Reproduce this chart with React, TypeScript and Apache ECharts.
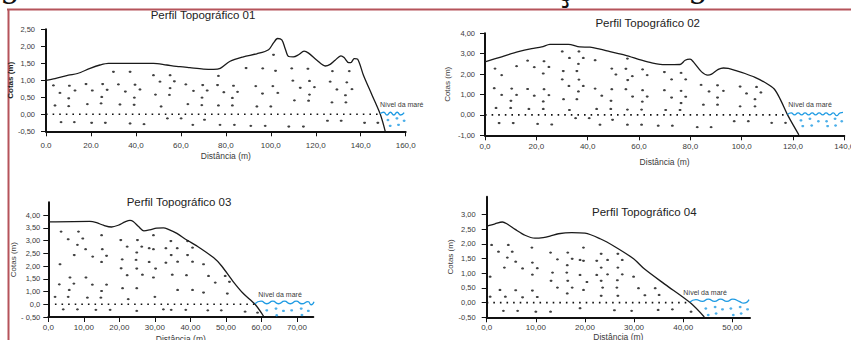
import React, { useEffect, useRef } from "react";
import * as echarts from "echarts";

// ---------- Perfil 01 ----------
const profile1: [number, number][] = [
  [0, 1.0], [4, 1.05], [10, 1.15], [14, 1.2], [19.6, 1.35], [24, 1.45], [27.7, 1.5], [47.8, 1.5],
  [53.7, 1.45], [59.6, 1.4], [64, 1.37], [70, 1.33], [74.5, 1.32], [77.5, 1.35], [81.9, 1.56],
  [87.8, 1.69], [93.8, 1.78], [99, 1.9], [101.2, 2.1], [103, 2.23], [104.9, 2.19], [106.4, 1.93],
  [107.9, 1.7], [110, 1.69], [112.3, 1.75], [114.8, 1.86], [116.8, 1.8], [120.5, 1.59], [124.2, 1.42],
  [126.4, 1.47], [128.6, 1.59], [131.2, 1.72], [132.6, 1.67], [134.6, 1.52], [135.6, 1.52],
  [137.1, 1.64], [138.6, 1.62], [141.2, 1.15], [145, 0.57], [148.7, 0], [150.9, -0.5],
];
const dots1: [number, number][] = [
  [30.0, 1.25], [37.4, 1.25], [47.8, 1.15], [55.2, 1.15], [76.7, 1.13], [89.0, 1.36], [96.4, 1.35],
  [102.1, 1.28], [109.3, 1.35], [116.5, 1.34], [127.4, 1.27], [134.9, 1.27], [101.2, 1.75],
  [3.3, 0.85], [10.4, 0.84], [17.8, 0.89], [25.2, 0.89], [32.2, 0.88], [39.6, 0.87], [50.7, 0.96],
  [57.1, 0.97], [62.2, 0.88], [69.7, 0.86], [76.3, 0.86], [83.4, 0.84], [93.3, 0.83], [100.9, 0.83],
  [109.8, 0.99], [117.2, 0.98], [126.4, 0.96], [133.8, 0.94],
  [6.2, 0.63], [12.9, 0.7], [20.6, 0.7], [27.2, 0.72], [35.3, 0.67], [41.8, 0.73], [55.2, 0.77],
  [65.6, 0.69], [71.7, 0.7], [79.1, 0.65], [85.2, 0.66], [96.3, 0.61], [103.1, 0.63], [113.1, 0.78],
  [119.4, 0.8], [129.4, 0.73], [136.1, 0.74],
  [10.1, 0.47], [24.8, 0.51], [39.3, 0.49], [48.7, 0.58], [54.9, 0.57], [69.4, 0.49], [82.9, 0.48],
  [117.2, 0.58], [133.2, 0.56],
  [4.0, 0.26], [10.1, 0.24], [18.4, 0.3], [24.5, 0.32], [32.9, 0.29], [39.2, 0.28], [51.2, 0.23],
  [63.1, 0.3], [69.3, 0.27], [76.7, 0.26], [82.9, 0.26], [93.8, 0.23], [100.0, 0.23], [110.5, 0.41],
  [116.8, 0.4], [127.2, 0.35], [133.4, 0.35],
  [6.7, -0.23], [12.6, -0.23], [20.3, -0.25], [26.4, -0.25], [37.4, -0.27], [43.6, -0.29],
  [54.0, -0.12], [60.1, -0.12], [65.3, -0.31], [70.5, -0.16], [77.4, -0.31], [83.8, -0.31],
  [91.1, -0.34], [97.5, -0.34], [108.0, -0.36], [114.5, -0.36], [125.2, -0.19], [131.3, -0.19],
  [141.7, -0.25], [147.6, -0.25],
];
const waterDots1: [number, number][] = [
  [152.1, -0.17], [156.1, -0.12], [159.3, -0.19], [153.1, -0.34], [156.8, -0.31],
];
const wave1: [number, number][] = [
  [148.7, 0.02], [150.2, 0.06], [151.7, -0.02], [153.2, 0.06], [154.7, -0.02], [156.2, 0.06],
  [157.7, -0.02], [159.3, 0.05],
];
const shore1 = 148.7;
const xTicks1 = [0, 20, 40, 60, 80, 100, 120, 140, 160];
const xLabels1 = ["0.0", "20.0", "40,0", "60,0", "80,0", "100,0", "120,0", "140,0", "160,0"];
const yTicks1 = [-0.5, 0, 0.5, 1, 1.5, 2, 2.5];
const yLabels1 = ["-0,50", "0,00", "0,50", "1,00", "1,50", "2,00", "2,50"];

// ---------- Perfil 02 ----------
const profile2: [number, number][] = [
  [0, 2.6], [6.5, 2.85], [13, 3.1], [18.2, 3.25], [22.1, 3.33], [25.3, 3.46], [32.5, 3.46],
  [37, 3.33], [40.9, 3.32], [44.8, 3.22], [48.7, 3.1], [54.5, 2.93], [61, 2.68], [65, 2.55],
  [70.1, 2.46], [76, 2.47], [78, 2.68], [79.9, 2.73], [81.2, 2.6], [84.4, 2.11], [86.8, 1.95],
  [88.3, 2.0], [90.9, 2.23], [92.9, 2.3], [94.8, 2.28], [98.1, 2.16], [101.3, 2.03], [105.2, 1.84],
  [109.1, 1.59], [112.7, 1.27], [115.3, 0.7], [117.9, 0], [122.3, -0.98],
];
const dots2: [number, number][] = [
  [3.9, 2.27], [6.5, 1.95], [12.3, 2.39], [16.6, 2.66], [19.2, 2.34], [23.0, 2.63], [24.9, 2.35],
  [22.7, 2.03], [30.1, 3.11], [36.6, 3.11], [32.9, 2.79], [38.3, 2.79], [42.9, 2.68], [36.4, 2.5],
  [30.5, 2.15], [35.8, 2.15], [30.1, 1.74], [36.6, 1.73], [32.7, 1.42], [38.3, 1.42], [36.4, 1.15],
  [42.9, 1.29], [49.4, 2.27], [51.0, 1.98], [54.9, 2.26], [55.5, 2.76], [57.4, 1.9], [55.6, 1.71],
  [61.4, 2.23], [63.2, 1.95], [69.9, 2.1], [76.4, 2.06], [72.7, 1.74], [78.2, 1.74],
  [3.6, 1.31], [6.5, 0.98], [10.1, 0.69], [10.4, 1.29], [12.3, 0.98], [16.6, 1.27], [19.2, 0.94],
  [23.0, 1.26], [22.7, 0.66], [24.9, 0.97], [30.6, 0.77], [35.8, 0.77], [45.5, 0.94], [49.4, 1.26],
  [49.1, 0.69], [54.9, 1.26], [57.5, 0.9], [61.4, 1.21], [61.3, 0.65], [63.2, 0.9], [69.9, 1.21],
  [72.7, 0.85], [76.4, 1.18], [76.4, 0.58], [78.2, 0.89], [84.2, 1.47], [87.3, 1.15], [90.6, 1.45],
  [90.6, 0.85], [92.9, 1.18], [99.4, 1.39], [101.9, 1.05], [105.8, 1.37], [105.2, 0.77], [107.5, 1.1],
  [85.1, 0.5], [90.6, 0.5], [99.4, 0.42], [105.2, 0.42],
  [4.3, 0.34], [10.0, 0.34], [17.1, 0.29], [22.7, 0.29], [32.9, 0.24], [43.5, 0.29], [49.0, 0.29],
  [55.5, 0.26], [61.0, 0.26], [70.4, 0.24], [76.0, 0.24],
  [5.5, -0.4], [11.0, -0.4], [20.5, -0.44], [26.0, -0.47], [35.3, -0.16], [40.6, -0.16],
  [44.8, -0.48], [49.7, -0.24], [55.5, -0.48], [61.0, -0.48], [67.5, -0.53], [73.0, -0.53],
  [82.7, -0.6], [88.1, -0.6], [97.1, -0.31], [102.6, -0.31], [111.7, -0.39], [117.1, -0.39],
];
const waterDots2: [number, number][] = [
  [123.1, -0.27], [126.6, -0.19], [129.9, -0.31], [133.1, -0.31], [136.4, -0.19], [139, -0.31],
  [123.8, -0.55], [127.3, -0.52], [133.5, -0.55], [136.6, -0.52],
];
const wave2: [number, number][] = [
  [117.9, 0.02], [119.3, 0.1], [120.6, 0.0], [122.0, 0.1], [123.4, 0.0], [124.7, 0.1], [126.1, 0.0],
  [127.5, 0.1], [128.8, 0.0], [130.2, 0.1], [131.6, 0.0], [132.9, 0.1], [134.3, 0.0], [135.7, 0.1],
  [137.0, -0.04], [138.4, 0.1], [139.5, 0.12],
];
const shore2 = 117.9;
const xTicks2 = [0, 20, 40, 60, 80, 100, 120, 140];
const xLabels2 = ["0,0", "20,0", "40,0", "60,0", "80,0", "100,0", "120,0", "140,0"];
const yTicks2 = [-1, 0, 1, 2, 3, 4];
const yLabels2 = ["-1,00", "0,00", "1,00", "2,00", "3,00", "4,00"];

// ---------- Perfil 03 ----------
const profile3: [number, number][] = [
  [0, 3.23], [11.7, 3.25], [13.6, 3.2], [15.5, 3.1], [17.8, 3.03], [19.7, 3.1], [21.6, 3.23],
  [23.0, 3.29], [23.9, 3.25], [25.4, 3.05], [26.9, 2.88], [28.6, 2.92], [30.5, 2.99], [32.4, 3.0],
  [33.8, 2.94], [36.2, 2.78], [39, 2.52], [41.8, 2.29], [46.5, 1.83], [48.8, 1.5], [52.1, 0.88],
  [54.9, 0.42], [58.2, 0], [60.6, -0.47],
];
const dots3: [number, number][] = [
  [3.6, 2.85], [8.5, 2.85], [5.6, 2.55], [9.7, 2.58], [8.2, 2.33], [10.5, 2.16], [7.3, 1.93],
  [12.5, 1.87], [15.0, 2.71], [15.2, 2.16], [16.4, 1.9], [15.0, 1.66], [3.3, 1.57], [20.4, 2.52],
  [22.2, 2.26], [25.1, 2.52], [26.3, 2.26], [24.9, 2.03], [28.4, 2.2], [29.6, 2.71], [29.6, 2.16],
  [33.1, 2.2], [34.5, 2.48], [36.3, 2.2], [39.2, 2.48], [40.6, 2.22], [20.8, 1.76], [24.7, 1.74],
  [28.4, 1.66], [33.1, 1.63], [34.6, 1.93], [36.4, 1.67], [39.2, 1.93], [40.6, 1.67], [43.7, 1.57],
  [20.5, 1.41], [24.9, 1.4], [22.2, 1.14], [26.5, 1.16], [30.2, 1.4], [34.9, 1.16], [29.6, 1.05],
  [38.9, 1.14], [45.1, 1.11], [49.8, 1.11], [47.0, 0.85], [51.0, 0.88], [6.1, 1.05], [10.6, 1.05],
  [3.1, 0.78], [7.2, 0.81], [12.4, 0.77], [16.4, 0.77], [5.9, 0.56], [15.0, 0.52], [20.9, 0.63],
  [24.9, 0.63], [36.4, 0.56], [40.6, 0.56], [43.7, 0.46], [50.4, 0.42], [1.9, 0.29], [5.6, 0.29],
  [11.0, 0.26], [14.8, 0.26], [22.5, 0.2], [30.0, 0.29],
  [4.2, -0.2], [8.2, -0.2], [13.4, -0.22], [17.4, -0.22], [24.9, -0.26], [32.4, -0.2], [34.6, -0.22],
  [38.7, -0.22], [44.9, -0.24], [48.7, -0.24], [55.4, -0.29], [58.9, -0.33],
];
const waterDots3: [number, number][] = [
  [61.5, -0.24], [64.1, -0.17], [66.2, -0.26], [68.5, -0.24], [71.2, -0.17], [73.2, -0.26],
  [64.3, -0.43], [71.4, -0.42],
];
const wave3: [number, number][] = [
  [58.2, 0.02], [59.9, 0.12], [61.5, 0.02], [63.2, 0.12], [64.8, 0.02], [66.5, 0.12], [68.1, 0.02],
  [69.8, 0.12], [71.4, 0.02], [73.1, 0.1], [74.0, -0.02], [74.8, 0.1],
];
const shore3 = 58.2;
const xTicks3 = [0, 10, 20, 30, 40, 50, 60, 70];
const xLabels3 = ["0,0", "10,00", "20,00", "30,00", "40,00", "50,00", "60,00", "70,00"];
const yTicks3 = [-0.5, 0, 0.5, 1, 1.5, 2, 2.5, 3, 3.5];
const yLabels3 = ["- 0,50", "0,0", "1,00", "1,50", "2,00", "2,50", "3,00", "3,50", "4,00"];

// ---------- Perfil 04 ----------
const profile4: [number, number][] = [
  [0, 2.6], [1.7, 2.68], [3.2, 2.74], [4.1, 2.68], [5.8, 2.49], [7.8, 2.29], [9.8, 2.19],
  [11.5, 2.21], [12.9, 2.26], [14.6, 2.34], [17.3, 2.38], [20.0, 2.36], [23.1, 2.17], [26.1, 1.9],
  [29.9, 1.49], [32.2, 1.13], [36.3, 0.62], [41.4, 0], [44.3, -0.49],
];
const dots4: [number, number][] = [
  [1.0, 1.96], [4.4, 1.96], [2.4, 1.73], [5.2, 1.73], [4.2, 1.53], [5.9, 1.39], [3.6, 1.19],
  [7.3, 1.16], [9.2, 1.87], [9.3, 1.36], [10.3, 1.17], [9.3, 0.95], [0.7, 0.88], [13.0, 1.7],
  [14.4, 1.47], [16.5, 1.7], [17.4, 1.49], [16.4, 1.27], [19.0, 1.45], [19.7, 1.87], [19.7, 1.42],
  [22.4, 1.42], [23.3, 1.66], [24.6, 1.45], [26.7, 1.66], [27.6, 1.45], [23.3, 1.19], [26.7, 1.19],
  [13.4, 1.02], [16.3, 1.02], [19.0, 0.94], [22.4, 0.94], [24.6, 0.96], [27.6, 0.96], [13.1, 0.74],
  [16.5, 0.74], [20.4, 0.7], [23.3, 0.74], [26.6, 0.76], [29.9, 0.88], [14.4, 0.51], [17.4, 0.51],
  [16.4, 0.31], [19.7, 0.43], [23.6, 0.51], [26.5, 0.51], [30.9, 0.49], [34.3, 0.49], [32.2, 0.25],
  [35.1, 0.26], [2.7, 0.43], [5.9, 0.42], [9.3, 0.41], [0.7, 0.2], [3.8, 0.2], [7.3, 0.18],
  [10.3, 0.19], [23.3, 0.23], [26.7, 0.23],
  [3.4, -0.28], [6.3, -0.28], [10.0, -0.31], [13.0, -0.31], [19.0, -0.19], [26.0, -0.26],
  [29.5, -0.28], [34.9, -0.25], [37.8, -0.23], [41.6, -0.31],
];
const waterDots4: [number, number][] = [
  [44.6, -0.2], [46.5, -0.15], [48.0, -0.23], [49.7, -0.2], [51.6, -0.15], [53.1, -0.23],
  [45.1, -0.42], [46.7, -0.37], [50.2, -0.42], [51.8, -0.37],
];
const wave4: [number, number][] = [
  [41.4, 0.02], [42.6, 0.1], [43.9, 0.04], [45.1, 0.12], [46.4, 0.04], [47.6, 0.12], [48.9, 0.04],
  [50.1, 0.12], [51.4, 0.04], [52.3, -0.02], [53.4, 0.1],
];
const shore4 = 41.4;
const xTicks4 = [0, 10, 20, 30, 40, 50];
const xLabels4 = ["0,0", "10,00", "20,00", "30,00", "40,00", "50,00"];
const yTicks4 = [-0.5, 0, 0.5, 1, 1.5, 2, 2.5, 3];
const yLabels4 = ["-0,50", "0,00", "0,50", "1,00", "1,50", "2,00", "2,50", "3,00"];

const titles = ["Perfil Topográfico 01", "Perfil Topográfico 02", "Perfil Topográfico 03", "Perfil Topográfico 04"];
const xName = "Distância (m)";
const yName = "Cotas (m)";
const tideLabel = "Nível da maré";

const FONT = "Liberation Sans, Arial, sans-serif";
const LABEL_COLOR = "#3a3a3a";
const BLUE = "#1f9be3";

function fmt(ticks: number[], labels: string[]) {
  return (v: number) => {
    const i = ticks.findIndex((t) => Math.abs(t - v) < 1e-6);
    return i >= 0 ? labels[i] : "";
  };
}

type PlotCfg = {
  grid: { left: number; top: number; width: number; height: number };
  xMin: number; xMax: number; yMin: number; yMax: number;
  xTicks: number[]; xLabels: string[]; yTicks: number[]; yLabels: string[];
  xLabelMargin: number; yLabelMargin: number; xNameGap: number; yNameGap: number;
  yNameBold: boolean;
  profile: [number, number][]; dots: [number, number][]; waterDots: [number, number][];
  wave: [number, number][]; shore: number;
};

const plots: PlotCfg[] = [
  {
    grid: { left: 46, top: 29.3, width: 359.7, height: 102 },
    xMin: 0, xMax: 160, yMin: -0.5, yMax: 2.5,
    xTicks: xTicks1, xLabels: xLabels1, yTicks: yTicks1, yLabels: yLabels1,
    xLabelMargin: 10, yLabelMargin: 11, xNameGap: 20, yNameGap: 27, yNameBold: true,
    profile: profile1, dots: dots1, waterDots: waterDots1, wave: wave1, shore: shore1,
  },
  {
    grid: { left: 485, top: 33.3, width: 359.3, height: 102 },
    xMin: 0, xMax: 140, yMin: -1, yMax: 4,
    xTicks: xTicks2, xLabels: xLabels2, yTicks: yTicks2, yLabels: yLabels2,
    xLabelMargin: 7, yLabelMargin: 10, xNameGap: 22, yNameGap: 34, yNameBold: false,
    profile: profile2, dots: dots2, waterDots: waterDots2, wave: wave2, shore: shore2,
  },
  {
    grid: { left: 48.3, top: 202.3, width: 265, height: 114.7 },
    xMin: 0, xMax: 74.6, yMin: -0.5, yMax: 4.0,
    xTicks: xTicks3, xLabels: xLabels3, yTicks: yTicks3, yLabels: yLabels3,
    xLabelMargin: 6, yLabelMargin: 8, xNameGap: 17, yNameGap: 26, yNameBold: false,
    profile: profile3, dots: dots3, waterDots: waterDots3, wave: wave3, shore: shore3,
  },
  {
    grid: { left: 486.7, top: 196.7, width: 263.3, height: 120.6 },
    xMin: 0, xMax: 53.6, yMin: -0.5, yMax: 3.6,
    xTicks: xTicks4, xLabels: xLabels4, yTicks: yTicks4, yLabels: yLabels4,
    xLabelMargin: 6, yLabelMargin: 11, xNameGap: 14, yNameGap: 26, yNameBold: false,
    profile: profile4, dots: dots4, waterDots: waterDots4, wave: wave4, shore: shore4,
  },
];

const titlePos: [number, number][] = [[203, 15], [647.7, 22.7], [179, 202.3], [644.3, 212.3]];
const tidePos: [number, number][] = [[401.7, 104], [810, 104.3], [280, 294], [705, 292.7]];

export default function App() {
  const ref = useRef<HTMLDivElement>(null);
  useEffect(() => {
    if (!ref.current) return;
    const chart = echarts.init(ref.current, undefined, { renderer: "svg" });

    const grids = plots.map((p) => ({ ...p.grid, containLabel: false, outerBoundsMode: "none" }));
    const xAxes = plots.map((p, i) => ({
      type: "value", gridIndex: i, min: p.xMin, max: p.xMax,
      name: xName, nameLocation: "middle", nameGap: p.xNameGap,
      nameTextStyle: { fontFamily: FONT, fontSize: 8.5, color: LABEL_COLOR },
      axisLine: { onZero: false, lineStyle: { color: "#111", width: 2 } },
      axisTick: { show: true, length: 5, customValues: p.xTicks, lineStyle: { color: "#111", width: 1 } },
      axisLabel: {
        customValues: p.xTicks, formatter: fmt(p.xTicks, p.xLabels), margin: p.xLabelMargin,
        fontFamily: FONT, fontSize: 8, color: LABEL_COLOR, showMinLabel: true, showMaxLabel: true,
      },
      splitLine: { show: false },
    }));
    const yAxes = plots.map((p, i) => ({
      type: "value", gridIndex: i, min: p.yMin, max: p.yMax,
      name: yName, nameLocation: "middle", nameGap: p.yNameGap, nameRotate: 90,
      nameTextStyle: {
        fontFamily: FONT, fontSize: 8, color: p.yNameBold ? "#222" : LABEL_COLOR,
        fontWeight: p.yNameBold ? "bold" : "normal",
      },
      axisLine: { onZero: false, lineStyle: { color: "#111", width: 2 } },
      axisTick: { show: true, length: 5, customValues: p.yTicks, lineStyle: { color: "#111", width: 1 } },
      axisLabel: {
        customValues: p.yTicks, formatter: fmt(p.yTicks, p.yLabels), margin: p.yLabelMargin,
        fontFamily: FONT, fontSize: 7.5, color: LABEL_COLOR, showMinLabel: true, showMaxLabel: true,
      },
      splitLine: { show: false },
    }));

    const series: any[] = [];
    plots.forEach((p, i) => {
      series.push({
        type: "line", xAxisIndex: i, yAxisIndex: i, data: [[0, 0], [p.shore, 0]],
        symbol: "none", silent: true,
        lineStyle: { color: "#111", width: 1.6, type: [1.6, 5] },
      });
      series.push({
        type: "scatter", xAxisIndex: i, yAxisIndex: i, data: p.dots,
        symbol: "circle", symbolSize: [3, 2.2], itemStyle: { color: "#111" }, silent: true,
      });
      series.push({
        type: "line", xAxisIndex: i, yAxisIndex: i, data: p.profile,
        symbol: "none", smooth: 0.3, silent: true,
        lineStyle: { color: "#1a1a1a", width: 1.3 },
      });
      series.push({
        type: "line", xAxisIndex: i, yAxisIndex: i, data: p.wave,
        symbol: "none", smooth: 0.6, silent: true,
        lineStyle: { color: BLUE, width: 1.3 },
      });
      series.push({
        type: "scatter", xAxisIndex: i, yAxisIndex: i, data: p.waterDots,
        symbol: "circle", symbolSize: [3, 2.4], itemStyle: { color: BLUE }, silent: true,
      });
    });

    const graphics: any[] = [
      { type: "line", shape: { x1: 7, y1: 9.5, x2: 851, y2: 9.5 }, style: { stroke: "#b5535a", lineWidth: 2 } },
      { type: "line", shape: { x1: 8.5, y1: 9, x2: 8.5, y2: 340 }, style: { stroke: "#b5535a", lineWidth: 2 } },
      { type: "text", x: 0, y: 2, style: { text: "g", font: "32px DejaVu Serif", fill: "#111", verticalAlign: "bottom" } },
      { type: "text", x: 556, y: 6, style: { text: "ç", font: "32px DejaVu Serif", fill: "#111", verticalAlign: "bottom" } },
      { type: "text", x: 688, y: 2, style: { text: "g", font: "32px DejaVu Serif", fill: "#111", verticalAlign: "bottom" } },
    ];
    titles.forEach((t, i) => {
      graphics.push({
        type: "text", x: titlePos[i][0], y: titlePos[i][1],
        style: { text: t, fontFamily: FONT, fontSize: 11.5, fill: "#222", align: "center", verticalAlign: "middle" },
      });
      graphics.push({
        type: "text", x: tidePos[i][0], y: tidePos[i][1],
        style: { text: tideLabel, fontFamily: FONT, fontSize: 7, fill: LABEL_COLOR, align: "center", verticalAlign: "middle" },
      });
    });

    chart.setOption({
      animation: false,
      backgroundColor: "#ffffff",
      grid: grids,
      xAxis: xAxes,
      yAxis: yAxes,
      series,
      graphic: { elements: graphics },
    } as any);
    return () => chart.dispose();
  }, []);

  return (
    <div
      ref={ref}
      style={{ position: "absolute", left: 0, top: 0, width: 851, height: 340, overflow: "hidden" }}
    />
  );
}
